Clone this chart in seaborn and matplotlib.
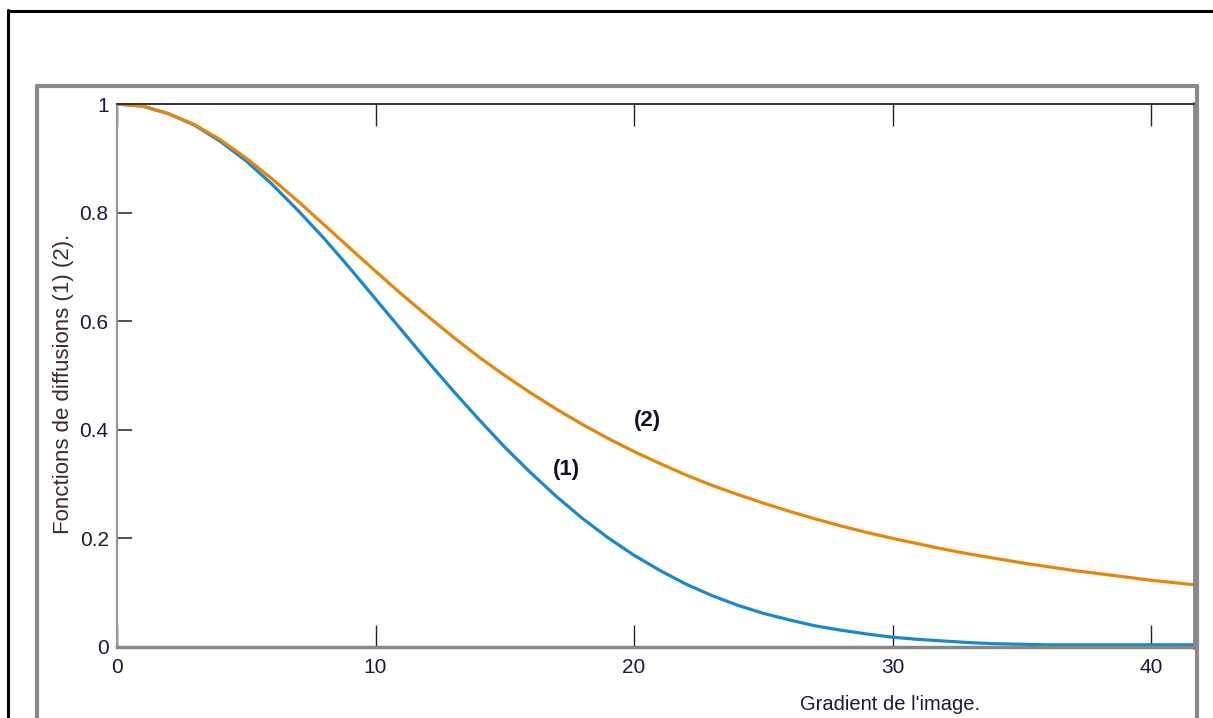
import numpy as np
import pandas as pd
import seaborn as sns
import matplotlib.pyplot as plt
from matplotlib.lines import Line2D
from matplotlib.ticker import FuncFormatter

# gradient values (x axis) and the two diffusion functions
gradient = list(range(0, 43))
diff_1 = [1.000, 0.996, 0.982, 0.961, 0.931, 0.895, 0.852, 0.804, 0.753, 0.698,
          0.641, 0.584, 0.527, 0.472, 0.419, 0.368, 0.321, 0.277, 0.237, 0.201,
          0.169, 0.141, 0.116, 0.095, 0.077, 0.062, 0.050, 0.039, 0.031, 0.024,
          0.018, 0.014, 0.011, 0.008, 0.006, 0.005, 0.004, 0.004, 0.004, 0.004,
          0.004, 0.004, 0.004]
diff_2 = [1.000, 0.996, 0.982, 0.962, 0.934, 0.900, 0.862, 0.821, 0.778, 0.735,
          0.692, 0.650, 0.610, 0.571, 0.534, 0.500, 0.468, 0.438, 0.410, 0.384,
          0.360, 0.338, 0.317, 0.298, 0.281, 0.265, 0.250, 0.236, 0.223, 0.211,
          0.200, 0.190, 0.180, 0.171, 0.163, 0.155, 0.148, 0.141, 0.135, 0.129,
          0.123, 0.118, 0.113]
curve_names = ['(1)', '(2)']
curve_colors = ['#1a88c9', '#e3870f']
label_pos = [(17.4, 0.326), (20.5, 0.418)]

x_ticks = [0, 10, 20, 30, 40]
y_ticks = [0, 0.2, 0.4, 0.6, 0.8, 1]

df = pd.DataFrame({
    'gradient': gradient * 2,
    'value': diff_1 + diff_2,
    'curve': [curve_names[0]] * len(diff_1) + [curve_names[1]] * len(diff_2),
})

sns.set_theme(style='white')
plt.rcParams['font.family'] = ['Liberation Sans', 'DejaVu Sans']

fig = plt.figure(figsize=(12.13, 7.18), dpi=100)
ax = fig.add_axes([117 / 1213, 1 - 647 / 718, (1195 - 117) / 1213, (647 - 104) / 718])

sns.lineplot(data=df, x='gradient', y='value', hue='curve', palette=curve_colors,
             linewidth=2.3, legend=False, ax=ax)

ax.set_xlim(0, 41.7)
ax.set_ylim(0, 1)
ax.set_xticks(x_ticks)
ax.set_yticks(y_ticks)
ax.yaxis.set_major_formatter(FuncFormatter(lambda v, p: f'{v:g}'))
ax.tick_params(axis='x', direction='in', length=16, width=1, colors='#222222',
               top=True, bottom=True, labelsize=15, pad=8)
ax.tick_params(axis='y', direction='in', length=11, width=1.2, colors='#333333',
               left=True, labelsize=15, pad=6)
for lab in ax.get_xticklabels() + ax.get_yticklabels():
    lab.set_color('#1a1a3a')

ax.spines['top'].set_color('#333333')
ax.spines['top'].set_linewidth(1.4)
ax.spines['left'].set_color('#999999')
ax.spines['left'].set_linewidth(1.6)
ax.spines['bottom'].set_color('#888888')
ax.spines['bottom'].set_linewidth(2.5)
ax.spines['right'].set_color('#888888')
ax.spines['right'].set_linewidth(3.5)

for name, (lx, ly) in zip(curve_names, label_pos):
    ax.text(lx, ly, name, fontsize=16, fontweight='bold', ha='center', va='center',
            color='#111122')

ax.set_xlabel("Gradient de l'image.", fontsize=14.5, color='#1a1a3a')
ax.xaxis.set_label_coords(0.717, -0.088)
ax.set_ylabel('Fonctions de diffusions (1) (2).', fontsize=16, color='#3a2a2a')
ax.yaxis.set_label_coords(-0.04, 0.485)

# outer frames of the screenshot
W, H = 1213, 718
def px_line(x0, y0, x1, y1, color, lw):
    fig.add_artist(Line2D([x0 / W, x1 / W], [1 - y0 / H, 1 - y1 / H],
                          transform=fig.transFigure, color=color, linewidth=lw))

px_line(8, 10, 8, H, 'black', 2.2)
px_line(8, 10.5, W, 10.5, 'black', 2.2)
px_line(37, 86, 37, H, '#8a8a8a', 3)
px_line(37, 86, 1197, 86, '#8a8a8a', 3)
px_line(1197, 86, 1197, H, '#8a8a8a', 3)

fig.savefig('out.png', dpi=100)
